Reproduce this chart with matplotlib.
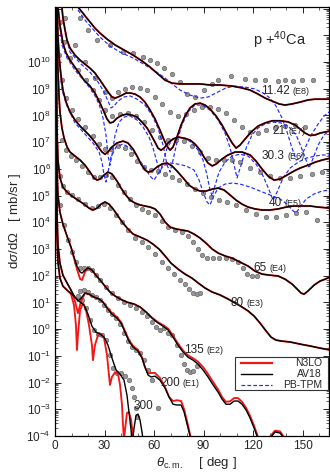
import numpy as np
import matplotlib
matplotlib.use("Agg")
import matplotlib.pyplot as plt
from matplotlib.ticker import LogLocator, MultipleLocator, NullFormatter
from matplotlib.patches import Rectangle

plt.rcParams['font.family'] = ['Liberation Sans', 'DejaVu Sans']
plt.rcParams['mathtext.fontset'] = 'custom'
plt.rcParams['mathtext.rm'] = 'Liberation Sans'
plt.rcParams['mathtext.it'] = 'Liberation Sans:italic'

# all values are log10 of dsigma/dOmega [mb/sr], already multiplied by 10^E
energies = ['11.42', '21', '30.3', '40', '65', '80', '135', '200', '300']
scale_tags = ['(E8)', '(E7)', '(E6)', '(E5)', '(E4)', '(E3)', '(E2)', '(E1)', '']

# ---- 11.42 MeV (x1e8)
av18_e8_deg = [13.9, 16.4, 18.8, 21.2, 24.2, 27.3, 31.5, 36.4, 41.8, 47.3, 52.7, 57.6, 62.4, 66.7, 70.9, 75.8, 81.8,
               87.9, 93.9, 100.0, 107.3, 113.3, 118.2, 123.0, 127.3, 131.5, 135.8, 139.4, 143.6, 148.5, 153.3, 157.6,
               161.8, 166.7]
av18_e8_log = [12.06, 11.87, 11.68, 11.50, 11.27, 11.08, 10.86, 10.64, 10.45, 10.26, 10.04, 9.81, 9.55, 9.32, 9.21,
               9.18, 9.18, 9.18, 9.14, 9.14, 9.10, 9.03, 8.95, 8.80, 8.65, 8.54, 8.43, 8.39, 8.43, 8.50, 8.58, 8.61,
               8.61, 8.61]
tpm_e8_deg = [13.9, 18.2, 22.4, 27.3, 33.3, 39.4, 47.3, 52.7, 57.6, 62.4, 66.7, 70.9, 75.8, 81.8, 87.9, 92.7, 98.8,
              103.6, 109.1, 115.2, 121.2, 126.1, 130.3, 133.9, 137.6, 140.6, 143.6, 146.1, 148.5, 151.5, 155.2, 159.4,
              163.0, 166.7]
tpm_e8_log = [11.95, 11.57, 11.27, 10.93, 10.60, 10.37, 10.15, 9.96, 9.77, 9.59, 9.40, 9.18, 8.95, 8.76, 8.65, 8.69,
              8.88, 9.03, 9.10, 9.06, 8.99, 8.84, 8.65, 8.35, 7.90, 7.38, 6.78, 6.33, 6.40, 6.78, 7.27, 7.68, 7.98,
              8.16]
exp_e8_deg = [15.2, 20.0, 25.5, 33.3, 41.2, 47.3, 53.3, 57.6, 61.8, 66.1, 70.9, 75.8, 80.0, 84.8, 90.3, 95.2, 98.8,
              106.7, 115.2, 121.2, 127.3, 135.2, 139.4, 144.2, 149.7, 156.4]
exp_e8_log = [11.65, 11.20, 10.82, 10.64, 10.37, 10.34, 10.19, 10.07, 9.96, 9.77, 9.55, 9.25, 8.80, 8.69, 8.95, 9.18,
              9.32, 9.47, 9.36, 9.32, 9.32, 9.29, 9.32, 9.29, 9.32, 9.32]

# ---- 21 MeV (x1e7)
av18_e7_deg = [4.2, 4.8, 6.1, 7.3, 9.1, 12.1, 15.2, 18.2, 21.2, 24.2, 27.3, 29.7, 32.1, 34.5, 36.4, 38.2, 40.6, 43.0,
               45.5, 48.5, 51.5, 54.5, 57.6, 60.6, 63.6, 66.1, 67.9, 69.7, 71.5, 73.9, 76.4, 78.8, 81.8, 84.8, 87.9,
               90.9, 93.9, 97.6, 101.2, 104.2, 107.3, 109.7, 112.1, 115.2, 118.8, 123.0, 127.3, 131.5, 136.4, 141.2,
               145.5, 148.5, 151.5, 154.5, 157.6, 160.6, 163.6, 166.7]
av18_e7_log = [12.06, 11.65, 11.20, 10.82, 10.52, 10.26, 10.07, 9.92, 9.77, 9.59, 9.32, 9.10, 8.88, 8.69, 8.65, 8.69,
               8.76, 8.84, 8.84, 8.80, 8.69, 8.50, 8.20, 7.87, 7.45, 7.08, 6.85, 6.70, 6.82, 7.19, 7.64, 7.98, 8.28,
               8.43, 8.46, 8.39, 8.24, 7.98, 7.64, 7.30, 6.97, 6.78, 6.89, 7.12, 7.38, 7.60, 7.72, 7.80, 7.80, 7.76,
               7.64, 7.49, 7.34, 7.25, 7.27, 7.34, 7.38, 7.42]
tpm_e7_deg = [4.2, 6.1, 9.1, 15.2, 21.2, 26.1, 29.7, 32.1, 33.9, 35.8, 38.2, 41.8, 45.5, 49.7, 54.5, 58.8, 62.4, 65.5,
              67.9, 69.7, 71.5, 73.9, 76.9, 80.6, 84.8, 89.1, 93.9, 98.8, 103.0, 106.1, 108.5, 110.3, 112.7, 115.8,
              119.4, 123.0, 127.3, 132.1, 137.0, 141.8, 146.1, 149.1, 152.1, 153.9, 156.4, 159.4, 163.0, 166.7]
tpm_e7_log = [11.95, 11.08, 10.37, 9.96, 9.62, 9.25, 8.88, 8.54, 8.28, 8.35, 8.54, 8.69, 8.73, 8.61, 8.39, 8.01, 7.53,
              6.89, 6.14, 5.88, 6.33, 7.00, 7.64, 8.13, 8.39, 8.39, 8.20, 7.83, 7.34, 6.78, 6.14, 5.66, 6.14, 6.78,
              7.27, 7.53, 7.68, 7.75, 7.72, 7.57, 7.27, 6.82, 6.33, 6.03, 6.40, 6.89, 7.27, 7.45]
exp_e7_deg = [6.1, 12.1, 18.2, 24.2, 30.3, 34.5, 38.2, 42.4, 46.7, 51.5, 55.8, 60.6, 64.8, 69.7, 74.5, 79.4, 84.2,
              89.1, 93.9, 98.8, 103.6, 108.5, 113.3, 118.2, 123.0, 127.9, 133.3, 139.4, 145.5, 151.5]
exp_e7_log = [11.65, 10.64, 10.00, 9.40, 8.88, 8.65, 8.88, 8.99, 9.06, 9.03, 8.95, 8.69, 8.43, 8.13, 7.98, 8.05, 8.20,
              8.31, 8.31, 8.24, 8.09, 7.83, 7.57, 7.38, 7.34, 7.45, 7.53, 7.60, 7.64, 7.57]

# ---- 30.3 MeV (x1e6)
av18_e6_deg = [1.8, 3.0, 4.8, 6.7, 9.1, 13.3, 17.6, 21.2, 24.2, 27.3, 29.7, 31.5, 33.3, 35.2, 37.6, 40.6, 43.6, 46.7,
               49.7, 52.7, 55.8, 58.2, 60.6, 62.4, 64.2, 66.1, 68.5, 71.5, 74.5, 78.2, 81.8, 84.8, 87.9, 90.3, 92.7,
               95.2, 97.6, 101.2, 104.8, 109.1, 113.3, 118.2, 121.8, 125.5, 129.1, 132.7, 136.4, 140.6, 144.8, 148.5,
               153.3, 157.6, 161.8, 166.7]
av18_e6_log = [12.06, 11.38, 10.71, 10.34, 10.07, 9.70, 9.32, 9.10, 8.84, 8.46, 8.13, 7.87, 7.72, 7.75, 7.90, 8.01,
               8.05, 8.01, 7.94, 7.75, 7.53, 7.27, 7.00, 6.78, 6.70, 6.78, 6.97, 7.12, 7.19, 7.15, 7.08, 6.93, 6.70,
               6.44, 6.22, 6.11, 6.18, 6.37, 6.52, 6.63, 6.63, 6.52, 6.29, 5.99, 5.73, 5.58, 5.62, 5.77, 5.92, 6.03,
               6.14, 6.25, 6.33, 6.40]
tpm_e6_deg = [1.8, 4.2, 7.3, 12.1, 18.2, 23.0, 26.7, 29.1, 30.9, 32.1, 33.3, 34.5, 36.4, 38.8, 41.8, 45.5, 49.7, 53.3,
              57.0, 59.4, 61.8, 63.6, 65.5, 67.9, 70.9, 74.5, 78.8, 83.0, 86.7, 89.7, 92.1, 93.9, 95.2, 97.0, 99.4,
              103.0, 107.3, 112.1, 117.0, 121.8, 126.1, 129.7, 132.1, 134.5, 138.2, 142.4, 147.3, 152.1, 157.6,
              161.8, 166.7]
tpm_e6_log = [11.95, 10.64, 10.15, 9.70, 9.25, 8.88, 8.43, 7.90, 7.27, 6.52, 6.14, 6.52, 7.27, 7.75, 7.94, 7.98, 7.83,
              7.57, 7.19, 6.78, 6.25, 5.88, 6.25, 6.78, 7.08, 7.19, 7.15, 6.97, 6.70, 6.33, 5.77, 5.21, 4.98, 5.39,
              5.88, 6.25, 6.48, 6.55, 6.48, 6.18, 5.73, 5.21, 4.83, 5.13, 5.66, 6.03, 6.25, 6.40, 6.48, 6.52, 6.52]
exp_e6_deg = [3.0, 5.5, 9.1, 13.9, 18.8, 23.0, 26.7, 30.3, 34.5, 39.4, 44.2, 49.1, 53.9, 58.8, 63.6, 68.5, 73.3,
              78.2, 83.0, 87.9, 92.7, 97.6, 102.4, 107.3, 112.1, 118.2, 124.2, 130.3, 136.4, 142.4, 148.5, 155.8,
              161.8]
exp_e6_log = [11.50, 10.75, 10.15, 9.70, 9.32, 8.95, 8.58, 8.20, 7.98, 8.05, 8.09, 7.98, 7.75, 7.45, 7.19, 7.08, 7.08,
              7.04, 6.85, 6.63, 6.40, 6.33, 6.33, 6.33, 6.25, 6.03, 5.88, 5.73, 5.66, 5.66, 5.73, 5.81, 5.88]

# ---- 40 MeV (x1e5)
av18_e5_deg = [1.2, 1.8, 2.4, 3.6, 4.8, 6.7, 9.1, 12.1, 15.2, 18.2, 21.2, 24.2, 26.7, 28.5, 30.3, 32.1, 34.5, 37.6,
               41.2, 44.2, 47.3, 49.7, 52.1, 54.5, 56.4, 58.8, 61.8, 64.8, 67.9, 70.9, 73.9, 77.6, 81.2, 84.8, 87.9,
               91.5, 95.2, 98.8, 102.4, 106.1, 109.7, 113.3, 117.0, 121.2, 125.5, 130.3, 135.2, 140.0, 144.8, 149.7,
               154.5, 159.4, 166.7]
av18_e5_log = [12.06, 11.01, 10.26, 9.51, 8.95, 8.50, 8.13, 7.83, 7.60, 7.42, 7.23, 7.00, 6.78, 6.63, 6.55, 6.63, 6.82,
               6.97, 7.04, 6.97, 6.74, 6.48, 6.18, 5.96, 5.88, 5.92, 6.07, 6.18, 6.22, 6.11, 5.92, 5.66, 5.39, 5.24,
               5.17, 5.17, 5.24, 5.28, 5.21, 5.02, 4.83, 4.68, 4.57, 4.50, 4.46, 4.46, 4.50, 4.57, 4.61, 4.61, 4.61,
               4.57, 4.53]
tpm_e5_deg = [1.2, 2.4, 4.2, 7.3, 12.1, 18.2, 23.0, 26.7, 28.5, 29.7, 30.9, 32.1, 33.9, 37.0, 41.2, 45.5, 49.1, 52.1,
              55.2, 57.6, 60.0, 62.4, 65.5, 69.7, 74.5, 79.4, 84.2, 87.3, 89.7, 92.1, 93.9, 95.8, 98.8, 103.0, 107.3,
              112.1, 118.2, 124.2, 130.3, 136.4, 140.6, 143.6, 146.1, 148.5, 152.1, 157.0, 161.8, 166.7]
tpm_e5_log = [11.95, 10.15, 8.95, 8.35, 7.72, 7.30, 6.97, 6.63, 6.25, 5.77, 5.51, 5.88, 6.44, 6.82, 6.93, 6.78, 6.52,
              6.25, 5.96, 5.73, 5.58, 5.81, 6.11, 6.22, 6.18, 6.11, 5.96, 5.58, 5.13, 4.76, 4.65, 4.94, 5.28, 5.43,
              5.47, 5.43, 5.32, 5.17, 5.02, 4.87, 4.68, 4.46, 4.35, 4.57, 4.87, 5.06, 5.17, 5.21]
exp_e5_deg = [2.4, 4.2, 6.7, 10.3, 13.9, 18.2, 23.0, 26.7, 30.3, 33.9, 38.2, 42.4, 46.1, 49.7, 53.9, 58.2, 62.4, 66.7,
              70.9, 75.2, 80.0, 84.8, 89.7, 94.5, 99.4, 104.2, 109.7, 115.8, 121.8, 127.9, 133.9, 140.0, 146.1, 152.1,
              158.8]
exp_e5_log = [10.26, 9.32, 8.65, 8.20, 7.87, 7.57, 7.23, 6.93, 6.74, 6.74, 6.85, 6.78, 6.55, 6.29, 6.07, 5.96, 5.92,
              5.81, 5.69, 5.58, 5.43, 5.24, 5.09, 4.94, 4.83, 4.76, 4.65, 4.46, 4.31, 4.20, 4.20, 4.27, 4.35, 4.38,
              4.08]

# ---- 65 MeV (x1e4)
av18_e4_deg = [0.6, 1.2, 1.8, 2.4, 3.0, 4.2, 5.5, 7.3, 9.1, 12.1, 15.2, 18.2, 21.2, 23.6, 25.5, 27.3, 29.7, 32.1, 34.5,
               37.6, 40.0, 42.4, 45.5, 48.5, 51.5, 54.5, 57.6, 60.6, 63.6, 66.7, 69.7, 73.3, 77.0, 80.6, 84.2, 87.9,
               91.5, 95.2, 98.8, 103.0, 107.3, 112.1, 117.0, 121.2, 125.5, 130.3, 135.2, 139.4, 143.6, 146.7, 149.1,
               150.9, 153.3, 157.0, 160.6, 163.6, 166.7]
av18_e4_log = [12.06, 10.82, 9.70, 8.76, 8.13, 7.53, 7.15, 6.82, 6.63, 6.48, 6.33, 6.14, 5.88, 5.66, 5.58, 5.62, 5.77,
               5.88, 5.81, 5.54, 5.28, 5.06, 4.83, 4.72, 4.65, 4.61, 4.57, 4.50, 4.31, 4.01, 3.82, 3.75, 3.71, 3.67,
               3.56, 3.41, 3.22, 3.00, 2.85, 2.74, 2.66, 2.51, 2.36, 2.17, 2.06, 2.02, 1.99, 1.87, 1.69, 1.50, 1.35,
               1.31, 1.43, 1.65, 1.80, 1.87, 1.95]
exp_e4_deg = [4.2, 6.7, 9.7, 12.7, 16.4, 20.0, 23.6, 27.3, 30.9, 34.5, 38.2, 41.8, 45.5, 49.1, 52.7, 56.4, 60.6, 64.8,
              68.5, 72.7, 77.0, 80.6, 83.6, 86.7, 89.1, 92.1, 95.8, 99.4, 103.6, 107.3, 110.9, 113.9, 116.4, 119.4,
              122.4]
exp_e4_log = [7.08, 6.70, 6.48, 6.33, 6.11, 5.88, 5.69, 5.69, 5.77, 5.69, 5.39, 5.13, 4.87, 4.65, 4.50, 4.38, 4.27,
              4.05, 3.82, 3.71, 3.63, 3.48, 3.26, 3.00, 2.77, 2.66, 2.66, 2.66, 2.66, 2.62, 2.51, 2.29, 2.06, 1.99, 1.99]

# ---- 80 MeV (x1e3)
av18_e3_deg = [0.6, 0.9, 1.2, 1.8, 3.0, 4.8, 7.3, 10.3, 13.9, 17.6, 20.6, 23.0, 25.5, 27.9, 30.3, 32.7, 35.2, 38.2,
               41.2, 44.2, 47.3, 51.5, 55.8, 59.4, 63.0, 66.7, 70.3, 74.5, 78.8, 83.0, 86.7, 90.9, 95.2, 100.0, 104.8,
               109.1, 113.3, 117.0, 120.6, 124.2, 127.9, 130.9, 133.9, 137.6, 142.4, 148.5, 154.5, 160.6, 166.7]
av18_e3_log = [12.06, 9.32, 7.45, 6.33, 5.66, 5.32, 5.13, 4.98, 4.83, 4.68, 4.53, 4.46, 4.53, 4.68, 4.76, 4.68, 4.50,
               4.23, 3.97, 3.75, 3.56, 3.45, 3.33, 3.18, 3.00, 2.74, 2.47, 2.25, 2.06, 1.91, 1.73, 1.54, 1.39, 1.28,
               1.13, 0.98, 0.83, 0.68, 0.49, 0.23, -0.07, -0.30, -0.41, -0.45, -0.48, -0.56, -0.63, -0.71, -0.78]
exp_e3_deg = [3.0, 4.8, 7.3, 10.3, 13.9, 18.2, 22.4, 26.1, 29.7, 33.3, 37.0, 40.6, 44.2, 48.5, 52.7, 56.4, 60.6, 64.8,
              68.5, 72.1, 75.8, 78.8, 81.2, 83.6, 86.1, 87.9]
exp_e3_log = [5.73, 5.36, 5.13, 5.02, 4.87, 4.68, 4.53, 4.61, 4.68, 4.53, 4.27, 4.01, 3.71, 3.41, 3.26, 3.07, 2.81,
              2.51, 2.29, 2.06, 1.84, 1.69, 1.50, 1.35, 1.31, 1.35]

# ---- 135 MeV (x1e2)
th_e2_deg = [0.6, 0.9, 1.2, 1.8, 3.0, 4.8, 7.3, 9.7, 11.5, 13.3, 15.2, 16.4, 18.2, 20.0, 22.4, 24.8, 27.3, 30.3, 33.3,
             36.4, 39.4, 43.6, 47.9, 51.5, 55.2, 58.8, 62.4, 65.5, 68.5, 71.5, 74.5, 77.6, 80.6, 83.6, 86.7, 89.7,
             92.7, 95.8, 98.8, 101.2, 103.6, 106.1, 108.5, 110.9, 113.3, 115.8, 118.2, 120.6, 122.4, 124.2, 127.3,
             130.3, 133.3, 136.4, 139.4, 142.4]
av18_e2_log = [12.06, 7.83, 5.96, 5.02, 4.38, 3.93, 3.48, 3.07, 2.70, 2.36, 2.14, 2.10, 2.21, 2.29, 2.21, 2.02, 1.84,
               1.61, 1.39, 1.24, 1.13, 1.01, 0.94, 0.83, 0.64, 0.41, 0.23, 0.11, -0.03, -0.30, -0.60, -0.86, -1.05,
               -1.16, -1.31, -1.53, -1.79, -2.09, -2.36, -2.62, -2.81, -2.81, -2.69, -2.69, -2.81, -3.03, -3.33,
               -3.70, -4.00, -4.34, -4.45, -4.08, -3.85, -3.89, -4.15, -4.53]
n3lo_e2_log = [12.06, 7.83, 5.96, 5.02, 4.38, 3.93, 3.48, 3.07, 2.66, 2.25, 1.88, 1.84, 2.14, 2.29, 2.21, 2.02, 1.84,
               1.61, 1.39, 1.24, 1.13, 1.01, 0.94, 0.83, 0.64, 0.43, 0.26, 0.15, 0.02, -0.24, -0.54, -0.80, -0.98,
               -1.09, -1.22, -1.42, -1.68, -1.98, -2.26, -2.54, -2.72, -2.70, -2.58, -2.58, -2.72, -2.95, -3.25,
               -3.62, -3.93, -4.27, -4.40, -4.02, -3.80, -3.83, -4.10, -4.50]
exp_e2_deg = [3.0, 5.5, 7.9, 10.3, 12.7, 15.2, 17.6, 20.0, 22.4, 24.8, 27.3, 30.9, 34.5, 38.2, 41.8, 45.5, 49.1, 52.7,
              55.8, 58.8, 61.2, 63.6, 66.1, 68.5, 70.9, 73.9, 76.4, 78.2, 80.0, 81.8, 83.6, 86.1]
exp_e2_log = [4.65, 3.90, 3.33, 2.89, 2.51, 2.29, 2.29, 2.29, 2.21, 2.02, 1.84, 1.58, 1.35, 1.16, 1.01, 0.90, 0.79,
              0.64, 0.49, 0.26, 0.08, -0.03, 0.04, -0.15, -0.22, -0.60, -0.97, -1.31, -1.53, -1.61, -1.57, -1.38]

# ---- 200 MeV (x1e1)
th_e1_deg = [0.6, 0.9, 1.2, 1.8, 3.0, 4.8, 7.3, 9.7, 12.1, 13.9, 15.8, 18.2, 20.6, 23.6, 26.7, 29.1, 31.5, 34.5, 37.6,
             40.0, 42.4, 44.8, 47.3, 50.3, 52.7, 54.5, 56.4, 58.2, 60.6, 63.6, 66.7, 69.1, 71.5, 73.9, 76.4, 78.2,
             80.0, 81.8, 83.6]
av18_e1_log = [12.06, 6.33, 4.27, 3.15, 2.47, 2.02, 1.73, 1.46, 1.20, 1.05, 1.16, 1.35, 1.31, 1.20, 1.13, 1.01, 0.79,
               0.56, 0.41, 0.23, -0.11, -0.45, -0.67, -0.82, -1.08, -1.42, -1.72, -1.79, -1.76, -1.91, -2.21, -2.54,
               -2.81, -2.84, -2.84, -3.10, -3.55, -4.00, -4.53]
n3lo_e1_log = [12.06, 6.33, 4.27, 3.15, 2.47, 2.02, 1.73, 1.46, 1.05, 0.60, 1.05, 1.35, 1.31, 1.20, 1.13, 1.01, 0.82,
               0.60, 0.45, 0.26, -0.07, -0.41, -0.63, -0.78, -1.05, -1.42, -1.66, -1.64, -1.64, -1.83, -2.17, -2.54,
               -2.69, -2.66, -2.69, -3.00, -3.45, -3.93, -4.45]
exp_e1_deg = [15.2, 17.6, 20.0, 22.4, 24.8, 27.3, 29.7, 32.1, 34.5, 37.0, 39.4, 41.8, 44.2, 46.7, 49.1, 51.5, 53.9,
              56.4, 58.8]
exp_e1_log = [1.43, 1.46, 1.39, 1.28, 1.20, 1.09, 0.90, 0.71, 0.56, 0.41, 0.19, -0.15, -0.45, -0.67, -0.78, -0.90,
              -1.16, -1.53, -1.91]

# ---- 300 MeV (x1)
av18_e0_deg = [0.6, 0.9, 1.2, 1.8, 3.0, 4.8, 7.3, 10.3, 12.7, 15.2, 17.6, 20.0, 22.4, 24.8, 27.3, 29.7, 32.1, 34.5,
               37.0, 39.4, 41.8, 43.6, 44.8, 46.1, 46.7, 47.9, 49.1, 50.3, 51.5, 52.7, 53.9]
av18_e0_log = [12.06, 5.58, 3.52, 2.51, 1.91, 1.61, 1.46, 1.31, 1.16, 1.01, 0.90, 0.56, 0.11, -0.11, -0.18, -0.30,
               -0.60, -1.08, -1.53, -1.68, -1.91, -2.47, -3.10, -3.78, -4.34, -3.70, -3.22, -3.18, -3.40, -3.85, -4.38]
n3lo_e0_deg = [0.6, 0.9, 1.2, 1.8, 3.0, 4.8, 7.3, 9.7, 11.5, 12.7, 13.3, 13.9, 15.2, 17.0, 18.8, 20.6, 22.4, 23.0,
               24.2, 26.1, 27.9, 29.7, 31.5, 32.7, 33.3, 34.5, 36.4, 38.2, 39.4, 40.6, 41.2, 41.8, 42.4, 43.6, 44.8,
               46.1, 47.3, 48.5]
n3lo_e0_log = [12.06, 5.58, 3.52, 2.51, 1.91, 1.61, 1.46, 1.31, 0.90, 0.15, -0.78, -0.22, 0.71, 0.98, 0.71, 0.15,
               -0.60, -1.16, -0.60, -0.22, -0.18, -0.33, -0.97, -1.72, -2.09, -1.79, -1.61, -1.68, -2.09, -2.84, -3.59,
               -4.15, -3.78, -3.14, -3.10, -3.40, -4.00, -4.53]
exp_e0_deg = [13.9, 16.4, 18.8, 21.2, 23.6, 26.1, 28.5, 30.9, 33.3, 35.2, 37.6, 40.0, 42.4, 44.8, 46.7, 47.9, 49.1,
              49.7, 62.4]
exp_e0_log = [1.24, 1.09, 0.79, 0.34, -0.03, -0.18, -0.22, -0.41, -0.97, -1.46, -1.64, -1.64, -1.76, -1.91, -2.21,
              -2.54, -2.95, -3.29, -2.95]

# where the energy labels sit (deg, log10 of baseline)
label_deg = [143.0, 140.5, 140.0, 138.2, 129.1, 115.2, 90.9, 76.4, 60.6]
label_log = [8.80, 7.30, 6.37, 4.61, 2.17, 0.87, -0.90, -2.13, -2.99]

n3lo_curves = [(av18_e8_deg, av18_e8_log), (av18_e7_deg, av18_e7_log), (av18_e6_deg, av18_e6_log),
               (av18_e5_deg, av18_e5_log), (av18_e4_deg, av18_e4_log), (av18_e3_deg, av18_e3_log),
               (th_e2_deg, n3lo_e2_log), (th_e1_deg, n3lo_e1_log), (n3lo_e0_deg, n3lo_e0_log)]
av18_curves = [(av18_e8_deg, av18_e8_log), (av18_e7_deg, av18_e7_log), (av18_e6_deg, av18_e6_log),
               (av18_e5_deg, av18_e5_log), (av18_e4_deg, av18_e4_log), (av18_e3_deg, av18_e3_log),
               (th_e2_deg, av18_e2_log), (th_e1_deg, av18_e1_log), (av18_e0_deg, av18_e0_log)]
tpm_curves = [(tpm_e8_deg, tpm_e8_log), (tpm_e7_deg, tpm_e7_log), (tpm_e6_deg, tpm_e6_log),
              (tpm_e5_deg, tpm_e5_log)]
exp_sets = [(exp_e8_deg, exp_e8_log), (exp_e7_deg, exp_e7_log), (exp_e6_deg, exp_e6_log), (exp_e5_deg, exp_e5_log),
            (exp_e4_deg, exp_e4_log), (exp_e3_deg, exp_e3_log), (exp_e2_deg, exp_e2_log), (exp_e1_deg, exp_e1_log),
            (exp_e0_deg, exp_e0_log)]

RED = '#f01818'
BLUE = '#1f2bff'
TXT = '#262626'

fig = plt.figure(figsize=(3.3, 4.75), dpi=100)
ax = fig.add_axes([55 / 330, 1 - 436 / 475, 274 / 330, 429 / 475])

for deg, lg in exp_sets:
    ax.plot(deg, 10.0 ** np.array(lg), 'o', ms=3.2, mfc='#959595', mec='#6a6a6a', mew=0.5, zorder=2)
for deg, lg in tpm_curves:
    ax.plot(deg, 10.0 ** np.array(lg), color=BLUE, lw=0.85, dashes=(3.2, 1.8), zorder=3)
for deg, lg in n3lo_curves:
    ax.plot(deg, 10.0 ** np.array(lg), color=RED, lw=1.35, zorder=4)
for deg, lg in av18_curves:
    ax.plot(deg, 10.0 ** np.array(lg), color='black', lw=1.0, zorder=5)

ax.set_yscale('log')
ax.set_xlim(0, 166)
ax.set_ylim(1e-4, 10 ** 12.06)

ax.xaxis.set_major_locator(MultipleLocator(30))
ax.xaxis.set_minor_locator(MultipleLocator(10))
yt = [10.0 ** k for k in range(-4, 13)]
ax.set_yticks(yt)
ax.set_yticklabels(['$10^{%d}$' % k if k <= 10 else '' for k in range(-4, 13)])
ax.yaxis.set_minor_locator(LogLocator(base=10, subs=np.arange(2, 10), numticks=40))
ax.yaxis.set_minor_formatter(NullFormatter())
ax.tick_params(which='both', direction='in', top=True, right=True, labelsize=8.5, colors=TXT, pad=3)
ax.tick_params(which='major', length=4, width=0.7)
ax.tick_params(which='minor', length=2, width=0.5)
for sp in ax.spines.values():
    sp.set_linewidth(0.9)

for i in range(len(energies)):
    ax.annotate(energies[i], (label_deg[i], 10 ** label_log[i]), xytext=(-1, 0), textcoords='offset points',
                ha='right', va='baseline', fontsize=8.5, color=TXT, zorder=6)
    if scale_tags[i]:
        ax.annotate(scale_tags[i], (label_deg[i], 10 ** label_log[i]), xytext=(1, 0), textcoords='offset points',
                    ha='left', va='baseline', fontsize=6.5, color=TXT, zorder=6)

ax.text(0.82, 0.922, 'p +$^{40}$Ca', transform=ax.transAxes, ha='center', va='center', fontsize=10.5, color=TXT)

# legend box, drawn by hand so the labels can be right aligned
ax.add_patch(Rectangle((0.657, 0.107), 0.339, 0.077, transform=ax.transAxes, fc='white', ec='#333333', lw=0.8,
                       zorder=7))
leg_rows = [('N3LO', RED, 1.6, '-'), ('AV18', 'black', 1.0, '-'), ('PB-TPM', BLUE, 0.85, '--')]
for j, (name, col, lw, ls) in enumerate(leg_rows):
    yy = 0.170 - j * 0.026
    ax.plot([0.679, 0.792], [yy, yy], transform=ax.transAxes, color=col, lw=lw, ls=ls, zorder=8,
            dashes=(3.2, 1.8) if ls == '--' else (None, None))
    ax.text(0.974, yy, name, transform=ax.transAxes, ha='right', va='center', fontsize=7.5, color=TXT, zorder=8)

fig.text(15 / 330, 1 - 221 / 475, r'd$\sigma$/d$\Omega$   [ mb/sr ]', rotation=90, ha='center', va='center',
         fontsize=9.5, color=TXT)
fig.text(196 / 330, 1 - 463 / 475, r'$\theta_{\rm c.m.}$    [ deg ]', ha='center', va='center', fontsize=9.5,
         color=TXT)

fig.savefig('out.png', dpi=100)
